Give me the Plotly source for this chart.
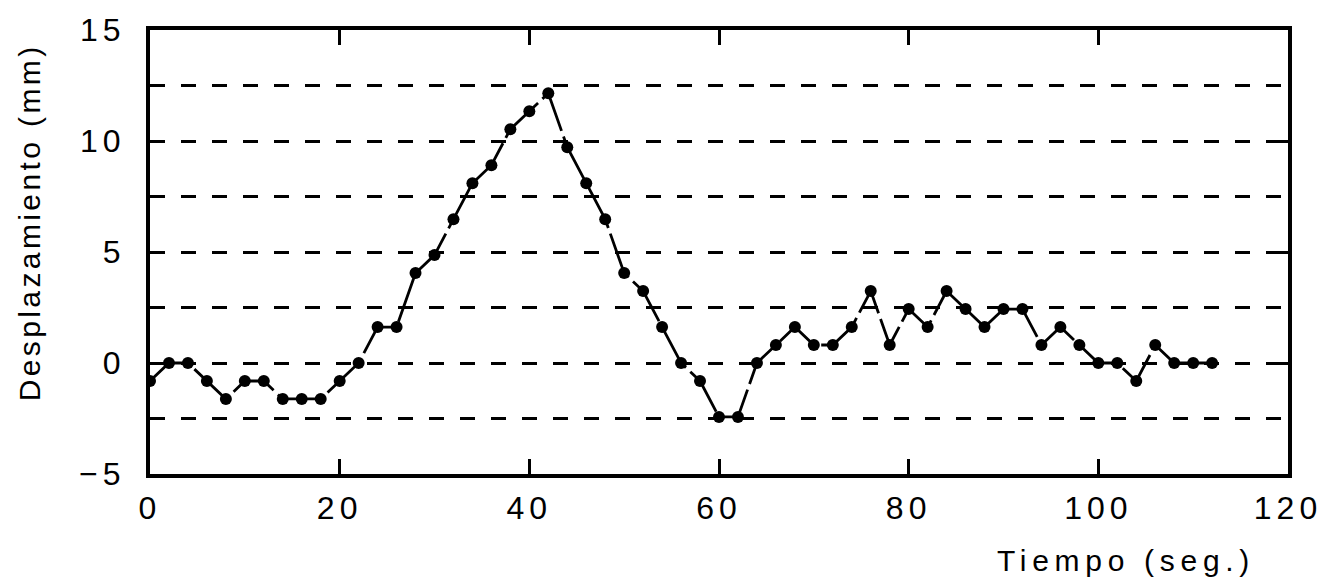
import plotly.graph_objects as go

tiempo = [0, 2, 4, 6, 8, 10, 12, 14, 16, 18, 20, 22, 24, 26, 28, 30, 32, 34, 36, 38,
          40, 42, 44, 46, 48, 50, 52, 54, 56, 58, 60, 62, 64, 66, 68, 70, 72, 74, 76, 78,
          80, 82, 84, 86, 88, 90, 92, 94, 96, 98, 100, 102, 104, 106, 108, 110, 112]
desplazamiento = [-0.81, 0, 0, -0.81, -1.62, -0.81, -0.81, -1.62, -1.62, -1.62,
                  -0.81, 0, 1.62, 1.62, 4.05, 4.86, 6.48, 8.1, 8.91, 10.53,
                  11.34, 12.15, 9.72, 8.1, 6.48, 4.05, 3.24, 1.62, 0, -0.81,
                  -2.43, -2.43, 0, 0.81, 1.62, 0.81, 0.81, 1.62, 3.24, 0.81,
                  2.43, 1.62, 3.24, 2.43, 1.62, 2.43, 2.43, 0.81, 1.62, 0.81,
                  0, 0, -0.81, 0.81, 0, 0, 0]
x_ticks = [0, 20, 40, 60, 80, 100, 120]
y_ticks = [-5, 0, 5, 10, 15]
x_title = "Tiempo (seg.)"
y_title = "Desplazamiento (mm)"

FONT = "Liberation Sans"

fig = go.Figure()
fig.add_trace(go.Scatter(
    x=tiempo, y=desplazamiento, mode="lines+markers",
    line=dict(color="black", width=2.8, dash="48px,6px"),
    marker=dict(color="black", size=12),
    showlegend=False,
))

fig.update_layout(
    width=1338, height=585,
    margin=dict(l=150, r=50, t=27, b=111),
    paper_bgcolor="white", plot_bgcolor="white",
    font=dict(family=FONT, size=32, color="black"),
    xaxis=dict(
        range=[0, 120], tickvals=x_ticks, ticktext=[str(v) for v in x_ticks],
        showgrid=False, zeroline=False,
        showline=True, linecolor="black", linewidth=4, mirror="ticks",
        ticks="inside", ticklen=15, tickwidth=3, tickcolor="black",
        ticklabelstandoff=3,
        tickfont=dict(family=FONT, size=32, color="black"),
    ),
    yaxis=dict(
        range=[-5, 15], tickvals=y_ticks, ticktext=[str(v).replace("-", "\u2212") for v in y_ticks],
        showgrid=True, gridcolor="black", gridwidth=2.8, griddash="15px,16px",
        zeroline=False,
        showline=True, linecolor="black", linewidth=4, mirror="ticks",
        ticks="inside", ticklen=15, tickwidth=3, tickcolor="black",
        ticklabelstandoff=14,
        tickfont=dict(family=FONT, size=32, color="black"),
        minor=dict(dtick=2.5, tick0=0, showgrid=True, gridcolor="black",
                   gridwidth=2.8, griddash="15px,16px", ticks=""),
    ),
    annotations=[
        dict(text=x_title, xref="paper", yref="paper", x=0.8575, y=-0.195,
             xanchor="center", yanchor="middle", showarrow=False,
             font=dict(family=FONT, size=30, color="black")),
        dict(text=y_title, xref="paper", yref="paper", x=-0.106, y=0.566,
             xanchor="center", yanchor="middle", textangle=-90, showarrow=False,
             font=dict(family=FONT, size=30, color="black")),
    ],
)

post = """
document.body.style.margin = '0';
document.documentElement.style.margin = '0';
var gd = document.getElementById('{plot_id}');
function spacing(){
  gd.querySelectorAll('.xtick text, .ytick text').forEach(function(t){ t.style.letterSpacing = '5px'; });
  gd.querySelectorAll('.annotation-text').forEach(function(t){
    if (t.textContent.indexOf('Tiempo') >= 0) { t.style.letterSpacing = '5.7px'; }
    else { t.style.letterSpacing = '3.4px'; }
  });
}
spacing();
gd.on('plotly_afterplot', spacing);
"""

fig.write_html("out.html", post_script=post, config={"displayModeBar": False})
